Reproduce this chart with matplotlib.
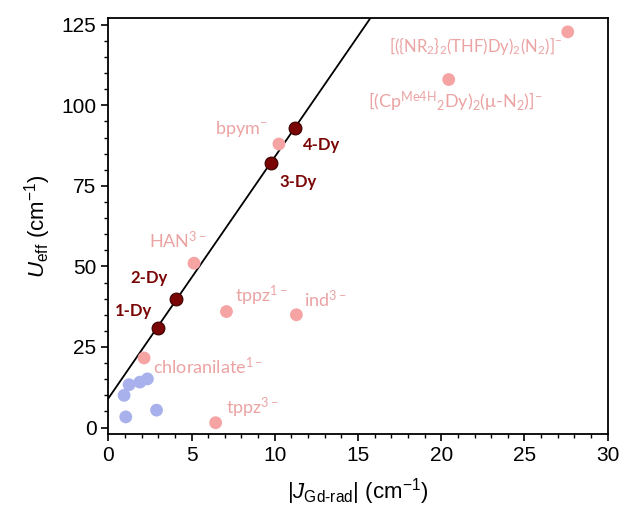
"""U_eff vs |J_Gd-rad| scatter with linear fit through the Dy series."""

import matplotlib
matplotlib.use("Agg")
import matplotlib.pyplot as plt
import numpy as np
from matplotlib.ticker import MultipleLocator

plt.rcParams["font.family"] = ["Liberation Sans", "DejaVu Sans"]
plt.rcParams["mathtext.fontset"] = "custom"
plt.rcParams["mathtext.rm"] = "Liberation Sans"
plt.rcParams["mathtext.it"] = "Liberation Sans:italic"
plt.rcParams["mathtext.bf"] = "Liberation Sans:bold"
plt.rcParams["mathtext.default"] = "regular"

# Dy series (fitted)
dy_names = ["1-Dy", "2-Dy", "3-Dy", "4-Dy"]
dy_j = [3.0, 4.05, 9.75, 11.2]
dy_u = [31.0, 40.0, 82.0, 93.0]

# literature radical-bridged complexes
lit_names = [
    r"[({NR$_2$}$_2$(THF)Dy)$_2$(N$_2$)]$^{-}$",
    r"[(Cp$^{Me4H}$$_2$Dy)$_2$($\mu$-N$_2$)]$^{-}$",
    r"bpym$^{-}$",
    r"HAN$^{3-}$",
    r"tppz$^{1-}$",
    r"ind$^{3-}$",
    r"chloranilate$^{1-}$",
    r"tppz$^{3-}$",
]
lit_j = [27.6, 20.45, 10.25, 5.15, 7.1, 11.3, 2.15, 6.45]
lit_u = [122.8, 108.0, 88.0, 51.0, 36.0, 35.0, 21.6, 1.5]

# other (unlabelled) complexes
oth_j = [0.95, 1.25, 1.9, 2.35, 1.05, 2.9]
oth_u = [10.0, 13.3, 14.1, 15.1, 3.3, 5.4]

# label anchor (x, vertical centre, alignment, size) in data units
dy_label_pos = [(0.4, 36.3), (1.35, 46.3), (10.3, 76.2), (11.7, 87.6)]
lit_label_pos = [
    (27.25, 118.5, "right", 12),
    (15.6, 101.0, "left", 13),
    (6.4, 92.8, "left", 13),
    (2.45, 58.0, "left", 13),
    (7.6, 40.8, "left", 13),
    (11.75, 39.6, "left", 13),
    (2.7, 19.0, "left", 13),
    (7.05, 6.1, "left", 13),
]

DARK = "#7a0505"
PINK = "#f5a3a3"
PINK_TXT = "#eba3a3"
BLUE = "#a9b1ec"
LABEL_FONT = ["Lato", "DejaVu Sans"]

fig = plt.figure(figsize=(6.34, 5.19), dpi=100)
ax = fig.add_axes([0.1708, 0.1638, 0.7877, 0.8009])

slope, icpt = np.polyfit(dy_j, dy_u, 1)
xf = np.array([0.0, 30.0])
ax.plot(xf, slope * xf + icpt, color="black", lw=1.3, zorder=1)

ax.scatter(oth_j, oth_u, s=85, color=BLUE, edgecolors="none", zorder=2)
ax.scatter(lit_j, lit_u, s=85, color=PINK, edgecolors="none", zorder=2)
ax.scatter(dy_j, dy_u, s=85, color=DARK, edgecolors="#3a0000", lw=0.8, zorder=3)

for name, (tx, ty) in zip(dy_names, dy_label_pos):
    ax.text(tx, ty, name, color=DARK, fontsize=12, fontweight="bold",
            family=LABEL_FONT, ha="left", va="center")
for name, (tx, ty, ha, fs) in zip(lit_names, lit_label_pos):
    ax.text(tx, ty, name, color=PINK_TXT, fontsize=fs,
            family=LABEL_FONT, ha=ha, va="center")

ax.set_xlim(0, 30)
ax.set_ylim(-2, 127)
ax.xaxis.set_major_locator(MultipleLocator(5))
ax.xaxis.set_minor_locator(MultipleLocator(1))
ax.yaxis.set_major_locator(MultipleLocator(25))
ax.yaxis.set_minor_locator(MultipleLocator(5))
ax.tick_params(which="major", direction="out", length=5, width=1.2, labelsize=15)
ax.tick_params(which="minor", direction="out", length=3, width=1.0)
for sp in ax.spines.values():
    sp.set_linewidth(1.3)

ax.set_xlabel(r"|$\mathit{J}_{\text{Gd-rad}}$| (cm$^{-1}$)", fontsize=16, labelpad=8)
ax.set_ylabel(r"$\mathit{U}_{eff}$ (cm$^{-1}$)", fontsize=16, labelpad=6)

fig.savefig("out.png", dpi=100)
plt.close(fig)
